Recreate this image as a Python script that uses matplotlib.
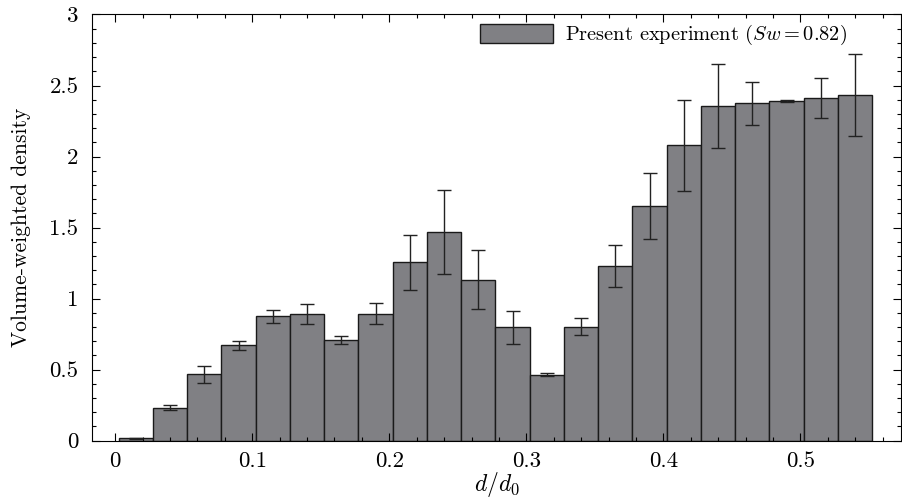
import numpy as np
import matplotlib
matplotlib.use("Agg")
import matplotlib.pyplot as plt
from matplotlib.ticker import MultipleLocator

plt.rcParams['font.family'] = 'serif'
plt.rcParams['font.serif'] = ['cmr10']
plt.rcParams['mathtext.fontset'] = 'cm'
plt.rcParams['axes.formatter.use_mathtext'] = True

# bin centres of d/d0 and measured volume-weighted density
bin_width = 0.025
d_ratio = [0.015, 0.040, 0.065, 0.090, 0.115, 0.140, 0.165, 0.190, 0.215, 0.240, 0.265,
           0.290, 0.315, 0.340, 0.365, 0.390, 0.415, 0.440, 0.465, 0.490, 0.515, 0.540]
density = [0.017, 0.232, 0.467, 0.671, 0.876, 0.890, 0.707, 0.894, 1.256, 1.467, 1.133,
           0.798, 0.465, 0.802, 1.228, 1.654, 2.079, 2.356, 2.375, 2.393, 2.412, 2.431]
density_err = [0.005, 0.018, 0.062, 0.032, 0.045, 0.070, 0.027, 0.074, 0.194, 0.296, 0.207,
               0.117, 0.010, 0.059, 0.146, 0.232, 0.318, 0.299, 0.150, 0.006, 0.140, 0.288]

fig = plt.figure(figsize=(9.02, 4.98), dpi=100)
ax = fig.add_axes([0.1023, 0.1151, 0.8966, 0.8558])

ax.bar(d_ratio, density, width=bin_width, color='#808084', edgecolor='#1a1a1a',
       linewidth=1.0, label=r'Present experiment ($Sw = 0.82$)')
ax.errorbar(d_ratio, density, yerr=density_err, fmt='none', ecolor='#222222',
            elinewidth=1.0, capsize=5, capthick=1.0)

ax.set_xlim(-0.0168, 0.5735)
ax.set_ylim(0, 3)
ax.xaxis.set_minor_locator(MultipleLocator(0.02))
ax.yaxis.set_minor_locator(MultipleLocator(0.1))
ax.set_xticks([0, 0.1, 0.2, 0.3, 0.4, 0.5])
ax.set_xticklabels(['0', '0.1', '0.2', '0.3', '0.4', '0.5'])
ax.set_yticks([0, 0.5, 1, 1.5, 2, 2.5, 3])
ax.set_yticklabels(['0', '0.5', '1', '1.5', '2', '2.5', '3'])
ax.tick_params(which='both', direction='in', top=True, right=True, labelsize=16.5, width=0.8)
ax.tick_params(which='major', length=6)
ax.tick_params(axis='x', which='major', pad=8)
ax.tick_params(axis='y', which='major', pad=10)
ax.tick_params(which='minor', length=3)
for s in ax.spines.values():
    s.set_linewidth(0.8)

ax.set_xlabel(r'$d/d_0$', fontsize=17, labelpad=-1)
ax.set_ylabel('Volume-weighted density', fontsize=15.5, labelpad=13)

ax.legend(loc='upper right', bbox_to_anchor=(0.948, 1.008), frameon=False, fontsize=14.7,
          handlelength=3.6, handleheight=1.0, handletextpad=0.55, borderaxespad=0.2)

fig.savefig('out.png', dpi=100)
